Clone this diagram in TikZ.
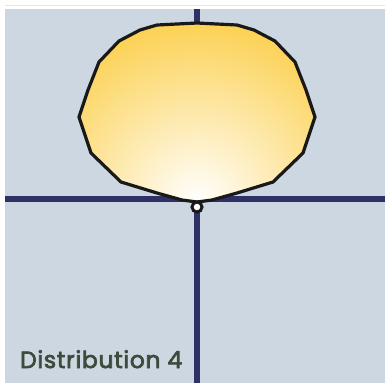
\documentclass[tikz,border=0pt]{standalone}
\usepackage{fontspec}
\setmainfont{Poppins}
\newfontfamily\labelfont[FakeBold=3,LetterSpace=3]{Poppins}
\definecolor{panel}{HTML}{CDD7E1}
\definecolor{axisblue}{HTML}{2E3066}
\definecolor{lampyellow}{HTML}{FBCA38}
\definecolor{labelgreen}{HTML}{3F4A3C}

\begin{document}
\begin{tikzpicture}[x=1bp,y=-1bp]
  \useasboundingbox (0,0) rectangle (385,383);
  \fill[white] (0,0) rectangle (385,383);
  \draw[gray!20,line width=1bp] (5,5.5)--(385,5.5);
  \fill[panel] (5,9) rectangle (385,383);
  % axes
  \coordinate (src) at (197,202);
  \coordinate (top) at (197,9);
  \coordinate (bot) at (197,383);
  \coordinate (lft) at (5,199);
  \coordinate (rgt) at (385,199);
  \draw[axisblue,line width=6.5bp] (lft)--(rgt);
  \draw[axisblue,line width=6.5bp] (top)--(bot);
  % light distribution
  \begin{scope}[shift={(src)}]
    \def\curve{(0,0) -- (15,-2) -- (40,-9) -- (76,-20) -- (106,-49) -- (118,-85)
      -- (109,-112) -- (98,-140) -- (78,-161) -- (57,-172) -- (40,-177) -- (0,-179)
      -- (-40,-177) -- (-57,-172) -- (-78,-161) -- (-98,-140) -- (-109,-112)
      -- (-118,-85) -- (-106,-49) -- (-76,-20) -- (-40,-9) -- (-15,-2) -- cycle}
    \begin{scope}
      \clip \curve;
      \shade[inner color=white,outer color=lampyellow] (0,0) circle (210);
    \end{scope}
    \draw[black!90,line width=3.2bp,line join=round] \curve;
  \end{scope}
  \draw[black!90,fill=white,line width=3bp] (197,207) circle (5);
  \node[anchor=base west,inner sep=0pt,text=labelgreen,font=\labelfont\fontsize{23.5}{26}\selectfont] (lbl) at (20,368) {Distribution 4};
\end{tikzpicture}
\end{document}
